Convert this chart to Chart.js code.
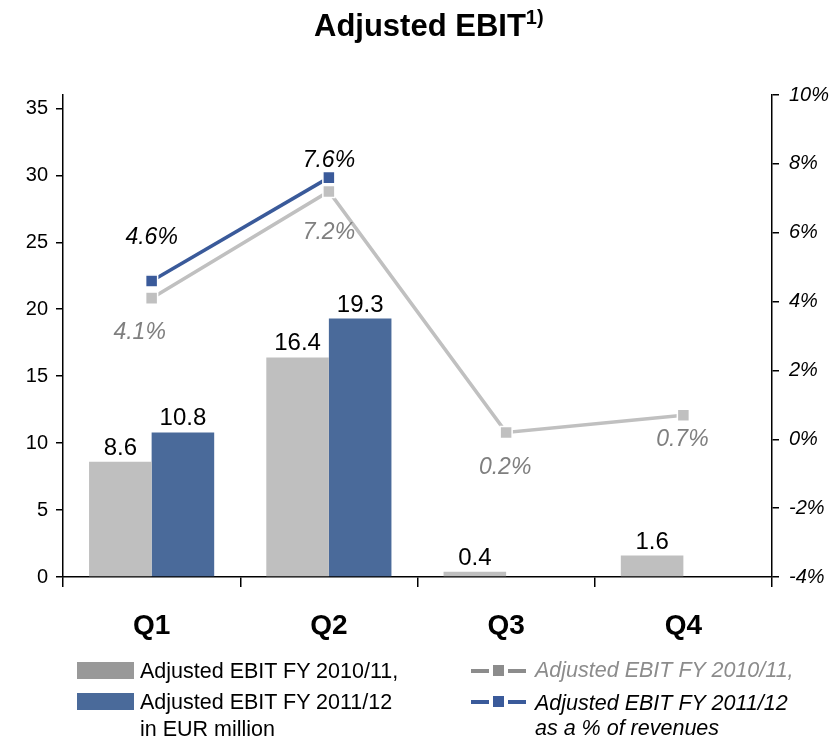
<!DOCTYPE html>
<html>
<head>
<meta charset="utf-8">
<script src="https://cdn.jsdelivr.net/npm/chart.js@4.4.1/dist/chart.umd.min.js"></script>
<style>
  html, body { margin: 0; padding: 0; background: #fff; }
  #wrap { position: relative; width: 838px; height: 739px; font-family: "Liberation Sans", Arial, sans-serif; }
  #chart { position: absolute; left: 0; top: 0; }
  .title { position: absolute; left: 314px; top: 10px; font-size: 31px; line-height: 31px; font-weight: bold; color: #000; white-space: nowrap; }
  .title sup { font-size: 20px; vertical-align: 0; position: relative; top: -12px; }
  .lg { position: absolute; font-size: 21.5px; line-height: 24px; white-space: nowrap; }
  .sw { position: absolute; }
</style>
</head>
<body>
<div id="wrap">
  <canvas id="chart" width="838" height="739"></canvas>
  <div class="title">Adjusted EBIT<sup>1)</sup></div>

  <div class="sw" style="left:77px;top:662px;width:57px;height:17px;background:#999999"></div>
  <div class="sw" style="left:77px;top:693px;width:57px;height:17px;background:#4A6A9A"></div>
  <div class="lg" style="left:140px;top:659px;color:#000">Adjusted EBIT FY 2010/11,</div>
  <div class="lg" style="left:140px;top:690px;color:#000">Adjusted EBIT FY 2011/12</div>
  <div class="lg" style="left:140px;top:717px;color:#000">in EUR million</div>

  <div class="sw" style="left:471px;top:669px;width:18px;height:4px;background:#8C8C8C"></div>
  <div class="sw" style="left:493px;top:665px;width:11px;height:11px;background:#8C8C8C"></div>
  <div class="sw" style="left:508px;top:669px;width:18px;height:4px;background:#8C8C8C"></div>
  <div class="sw" style="left:471px;top:700px;width:18px;height:4px;background:#3A5A9A"></div>
  <div class="sw" style="left:493px;top:696px;width:11px;height:11px;background:#3A5A9A"></div>
  <div class="sw" style="left:508px;top:700px;width:18px;height:4px;background:#3A5A9A"></div>
  <div class="lg" style="left:535px;top:658px;color:#8C8C8C;font-style:italic">Adjusted EBIT FY 2010/11,</div>
  <div class="lg" style="left:535px;top:691px;color:#000;font-style:italic">Adjusted EBIT FY 2011/12</div>
  <div class="lg" style="left:535px;top:716px;color:#000;font-style:italic">as a % of revenues</div>
</div>
<script>
// Quarters and values (EUR million and % of revenues)
const quarters = ['Q1', 'Q2', 'Q3', 'Q4'];
const ebitFY1011 = [8.6, 16.4, 0.4, 1.6];
const ebitFY1112 = [10.8, 19.3, null, null];
const marginFY1011 = [4.1, 7.2, 0.2, 0.7];
const marginFY1112 = [4.6, 7.6, null, null];

const FONT = '"Liberation Sans", Arial, sans-serif';

// Draws the value text next to each bar / point
const valueLabels = {
  id: 'valueLabels',
  afterDatasetsDraw(chart) {
    const ctx = chart.ctx;
    chart.data.datasets.forEach((ds, i) => {
      const lab = ds.valueLabel;
      if (!lab) return;
      const meta = chart.getDatasetMeta(i);
      meta.data.forEach((el, j) => {
        const v = ds.data[j];
        if (v === null || v === undefined) return;
        const off = lab.offsets ? lab.offsets[j] : [0, lab.dy];
        ctx.save();
        ctx.font = lab.font;
        ctx.fillStyle = lab.color;
        ctx.textAlign = 'center';
        ctx.textBaseline = lab.baseline;
        ctx.fillText(v.toFixed(1) + lab.suffix, el.x + off[0], el.y + off[1]);
        ctx.restore();
      });
    });
  }
};

const barLabel = { font: '24px ' + FONT, color: '#000', baseline: 'alphabetic', dy: -7, suffix: '' };

new Chart(document.getElementById('chart'), {
  type: 'bar',
  data: {
    labels: quarters,
    datasets: [
      {
        type: 'line', label: 'Adjusted EBIT FY 2011/12 (% of revenues)', data: marginFY1112, yAxisID: 'y1', order: 0,
        borderColor: '#3A5A9A', borderWidth: 3.5, pointStyle: 'rect', pointRadius: 8.5,
        pointBackgroundColor: '#3A5A9A', pointBorderColor: '#ffffff', pointBorderWidth: 1.5,
        valueLabel: { font: 'italic 23px ' + FONT, color: '#000', baseline: 'middle', suffix: '%', offsets: [[0, -43], [0, -17], [0, 0], [0, 0]] }
      },
      {
        type: 'line', label: 'Adjusted EBIT FY 2010/11 (% of revenues)', data: marginFY1011, yAxisID: 'y1', order: 1,
        borderColor: '#C0C0C0', borderWidth: 3.5, pointStyle: 'rect', pointRadius: 8.5,
        pointBackgroundColor: '#C0C0C0', pointBorderColor: '#ffffff', pointBorderWidth: 1.5,
        valueLabel: { font: 'italic 23px ' + FONT, color: '#7F7F7F', baseline: 'middle', suffix: '%', offsets: [[-12, 34], [0, 41], [-1, 35], [-1, 24]] }
      },
      {
        label: 'Adjusted EBIT FY 2010/11', data: ebitFY1011, yAxisID: 'y', order: 2,
        backgroundColor: '#BFBFBF', barPercentage: 1, categoryPercentage: 0.706,
        valueLabel: barLabel
      },
      {
        label: 'Adjusted EBIT FY 2011/12', data: ebitFY1112, yAxisID: 'y', order: 2,
        backgroundColor: '#4A6A9A', barPercentage: 1, categoryPercentage: 0.706,
        valueLabel: barLabel
      }
    ]
  },
  options: {
    responsive: false,
    animation: false,
    events: [],
    layout: { padding: { top: 95, left: 0, right: 0, bottom: 0 } },
    plugins: { legend: { display: false }, tooltip: { enabled: false }, title: { display: false } },
    scales: {
      x: {
        offset: true,
        grid: { display: true, offset: true, drawOnChartArea: false, drawTicks: true, tickLength: 10, color: '#000', lineWidth: 1.5 },
        border: { display: true, color: '#000', width: 1.5 },
        ticks: { color: '#000', font: { family: FONT, size: 28, weight: 'bold' }, padding: 22, maxRotation: 0 },
        afterFit(s) { s.height = 162; }
      },
      y: {
        position: 'left', min: 0, max: 36,
        grid: { drawOnChartArea: false, drawTicks: true, tickLength: 7, color: '#000', lineWidth: 1.5 },
        border: { display: true, color: '#000', width: 1.5 },
        ticks: { stepSize: 5, includeBounds: false, color: '#000', font: { family: FONT, size: 20 }, padding: 8 },
        afterFit(s) { s.width = 63; }
      },
      y1: {
        position: 'right', min: -4, max: 10,
        grid: { drawOnChartArea: false, drawTicks: true, tickLength: 7, color: '#000', lineWidth: 1.5 },
        border: { display: true, color: '#000', width: 1.5 },
        ticks: { stepSize: 2, color: '#000', font: { family: FONT, size: 20, style: 'italic' }, padding: 10, callback: v => v + '%' },
        afterFit(s) { s.width = 66; }
      }
    }
  },
  plugins: [valueLabels]
});
</script>
</body>
</html>
